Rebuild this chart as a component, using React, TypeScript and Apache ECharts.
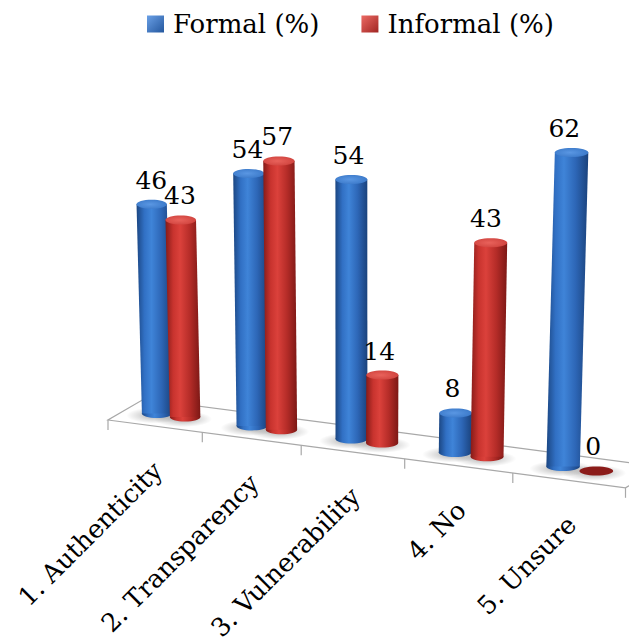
import React, { useEffect, useRef } from "react";
import * as echarts from "echarts";

// ---------- data ----------
const categories = ["1. Authenticity", "2. Transparency", "3. Vulnerability", "4. No", "5. Unsure"];
const formalValues = [46, 54, 54, 8, 62];
const informalValues = [43, 57, 14, 43, 0];
const seriesNames = ["Formal (%)", "Informal (%)"];

// ---------- perspective settings (styling only) ----------
const CURVE_X = 2.3; // px per u^2 added to the floor front edge (perspective spread)
const SLOPE = 0.131; // slope of the floor front edge
const DEPTH: [number, number] = [36, -21];
const BASE_LIFT = 13;
const GROWTH = 0.0289; // value scale growth per category unit (perspective)
const LEAN_CENTER = 355;
const LEAN = 0.00013;
const HALF_GAP = 0.15;
const FONT = '"DejaVu Serif", "Liberation Serif", serif';

function frontPoint(api: any, u: number): [number, number] {
  const p = api.coord([u, 0]);
  const o = api.coord([0, 0]);
  const x = p[0] + CURVE_X * u * u;
  const y = o[1] + SLOPE * (x - o[0]);
  return [x, y];
}

function barBase(api: any, u: number): [number, number] {
  const f = frontPoint(api, u);
  const o = api.coord([0, 0]);
  const x = f[0] + 16.8 - 0.6 * u - 0.15 * u * u;
  const y = o[1] + SLOPE * (x - o[0]) - BASE_LIFT;
  return [x, y];
}

function lin(stops: [number, string][]) {
  return {
    type: "linear",
    x: 0,
    y: 0,
    x2: 1,
    y2: 0,
    colorStops: stops.map(([offset, color]) => ({ offset, color })),
  };
}
function rad(inner: string, outer: string) {
  return {
    type: "radial",
    x: 0.45,
    y: 0.5,
    r: 0.6,
    colorStops: [
      { offset: 0, color: inner },
      { offset: 1, color: outer },
    ],
  };
}

const PALETTE = [
  {
    body: lin([
      [0, "#1b4682"],
      [0.22, "#3170c4"],
      [0.42, "#3f84d8"],
      [0.7, "#2d66b6"],
      [1, "#1a427c"],
    ]),
    top: rad("#5a97e3", "#3a78c8"),
    zero: "#1f4d8c",
    legend: {
      type: "linear",
      x: 0,
      y: 0,
      x2: 1,
      y2: 1,
      colorStops: [
        { offset: 0, color: "#6aa0e6" },
        { offset: 1, color: "#24579e" },
      ],
    },
  },
  {
    body: lin([
      [0, "#851b18"],
      [0.22, "#c8332e"],
      [0.42, "#db413b"],
      [0.7, "#b52c28"],
      [1, "#7c1815"],
    ]),
    top: rad("#e9625b", "#cf423d"),
    zero: "#8b1c1a",
    legend: {
      type: "linear",
      x: 0,
      y: 0,
      x2: 1,
      y2: 1,
      colorStops: [
        { offset: 0, color: "#ec6a64" },
        { offset: 1, color: "#a02522" },
      ],
    },
  },
];

function barGeometry(api: any, catIndex: number, value: number, side: number) {
  const u = catIndex + 0.5 + side * HALF_GAP;
  const [xb, yb] = barBase(api, u);
  const o = api.coord([u, 0]);
  const pv = api.coord([u, value]);
  const H = (o[1] - pv[1]) * (1 + GROWTH * u);
  const w = 30 + 0.8 * u;
  const xt = xb + (xb - LEAN_CENTER) * LEAN * H;
  const yt = yb - H;
  return { u, xb, yb, xt, yt, H, w, ry: 4.5 };
}

function makeBarRenderer(sIdx: number) {
  const side = sIdx === 0 ? -1 : 1;
  const pal = PALETTE[sIdx];
  return (params: any, api: any) => {
    const cat = api.value(0);
    const value = api.value(1);
    const g = barGeometry(api, cat, value, side);
    const hw = g.w / 2;
    const children: any[] = [];
    if (g.H > 0.5) {
      children.push({
        type: "ellipse",
        shape: { cx: g.xb, cy: g.yb, rx: hw, ry: g.ry },
        style: { fill: pal.body },
      });
      children.push({
        type: "polygon",
        shape: {
          points: [
            [g.xb - hw, g.yb],
            [g.xt - hw, g.yt],
            [g.xt + hw, g.yt],
            [g.xb + hw, g.yb],
          ],
        },
        style: { fill: pal.body },
      });
      children.push({
        type: "ellipse",
        shape: { cx: g.xt, cy: g.yt, rx: hw, ry: g.ry },
        style: { fill: pal.top },
      });
    } else {
      children.push({
        type: "ellipse",
        shape: { cx: g.xb, cy: g.yb, rx: hw, ry: g.ry },
        style: { fill: pal.zero },
      });
    }
    children.push({
      type: "text",
      x: (g.xb + g.xt) / 2 - 3,
      y: g.yt - g.ry - 7,
      style: {
        text: String(value),
        align: "center",
        verticalAlign: "bottom",
        fontFamily: FONT,
        fontSize: 25,
        fill: "#000000",
      },
    });
    return { type: "group", children };
  };
}

function shadowRenderer(params: any, api: any) {
  const cat = api.value(0);
  const value = api.value(1);
  const side = api.value(2);
  const g = barGeometry(api, cat, value, side);
  return {
    type: "ellipse",
    shape: { cx: g.xb - 2, cy: g.yb + 2, rx: g.w * 0.95, ry: 8 },
    style: {
      fill: {
        type: "radial",
        x: 0.5,
        y: 0.5,
        r: 0.5,
        colorStops: [
          { offset: 0, color: "rgba(0,0,0,0.32)" },
          { offset: 0.6, color: "rgba(0,0,0,0.12)" },
          { offset: 1, color: "rgba(0,0,0,0)" },
        ],
      },
    },
  };
}

function floorRenderer(params: any, api: any) {
  const i = api.value(0);
  const n = categories.length;
  const children: any[] = [];
  const lineStyle = { stroke: "#a8a8a8", lineWidth: 1.2, fill: null };
  if (i === 0) {
    const f0 = frontPoint(api, 0);
    const f5 = frontPoint(api, n);
    children.push({
      type: "polygon",
      shape: {
        points: [
          f0,
          f5,
          [f5[0] + DEPTH[0], f5[1] + DEPTH[1]],
          [f0[0] + DEPTH[0], f0[1] + DEPTH[1]],
        ],
      },
      style: { fill: "#ffffff", stroke: "#a8a8a8", lineWidth: 1.2 },
    });
  }
  const ticks = i === n - 1 ? [i, n] : [i];
  ticks.forEach((t) => {
    const p = frontPoint(api, t);
    children.push({
      type: "line",
      shape: { x1: p[0], y1: p[1], x2: p[0], y2: p[1] + 10 },
      style: lineStyle,
    });
  });
  const c = frontPoint(api, i + 0.5);
  children.push({
    type: "text",
    x: c[0] + 3,
    y: c[1] + 40,
    rotation: Math.PI / 4,
    style: {
      text: categories[i],
      align: "right",
      verticalAlign: "middle",
      fontFamily: FONT,
      fontSize: 25.5,
      fill: "#000000",
    },
  });
  return { type: "group", children };
}

export default function App() {
  const ref = useRef<HTMLDivElement>(null);
  useEffect(() => {
    if (!ref.current) return;
    const chart = echarts.init(ref.current, null, { renderer: "svg" });
    const floorData = categories.map((_, i) => [i, 0]);
    const shadowData = [
      ...formalValues.map((v, i) => [i, v, -1]),
      ...informalValues.map((v, i) => [i, v, 1]),
    ];
    chart.setOption({
      animation: false,
      backgroundColor: "#ffffff",
      grid: { left: 108, top: 105, width: 460, height: 315 },
      xAxis: { type: "value", min: 0, max: 5, show: false },
      yAxis: { type: "value", min: 0, max: 70, show: false },
      legend: {
        data: seriesNames,
        left: 147,
        top: 11,
        padding: 0,
        itemWidth: 17,
        itemHeight: 17,
        itemGap: 42,
        icon: "rect",
        selectedMode: false,
        textStyle: { fontFamily: FONT, fontSize: 26, color: "#000000", padding: [0, 0, 0, 4] },
      },
      series: [
        {
          type: "custom",
          name: "floor",
          clip: false,
          silent: true,
          z: 1,
          renderItem: floorRenderer,
          data: floorData,
        },
        {
          type: "custom",
          name: "shadow",
          clip: false,
          silent: true,
          z: 2,
          renderItem: shadowRenderer,
          data: shadowData,
        },
        {
          type: "custom",
          name: seriesNames[0],
          clip: false,
          z: 3,
          itemStyle: { color: PALETTE[0].legend },
          renderItem: makeBarRenderer(0),
          data: formalValues.map((v, i) => [i, v]),
        },
        {
          type: "custom",
          name: seriesNames[1],
          clip: false,
          z: 3,
          itemStyle: { color: PALETTE[1].legend },
          renderItem: makeBarRenderer(1),
          data: informalValues.map((v, i) => [i, v]),
        },
      ],
    });
    return () => chart.dispose();
  }, []);
  return (
    <div
      ref={ref}
      style={{ position: "fixed", left: 0, top: 0, width: 629, height: 643, background: "#fff" }}
    />
  );
}
